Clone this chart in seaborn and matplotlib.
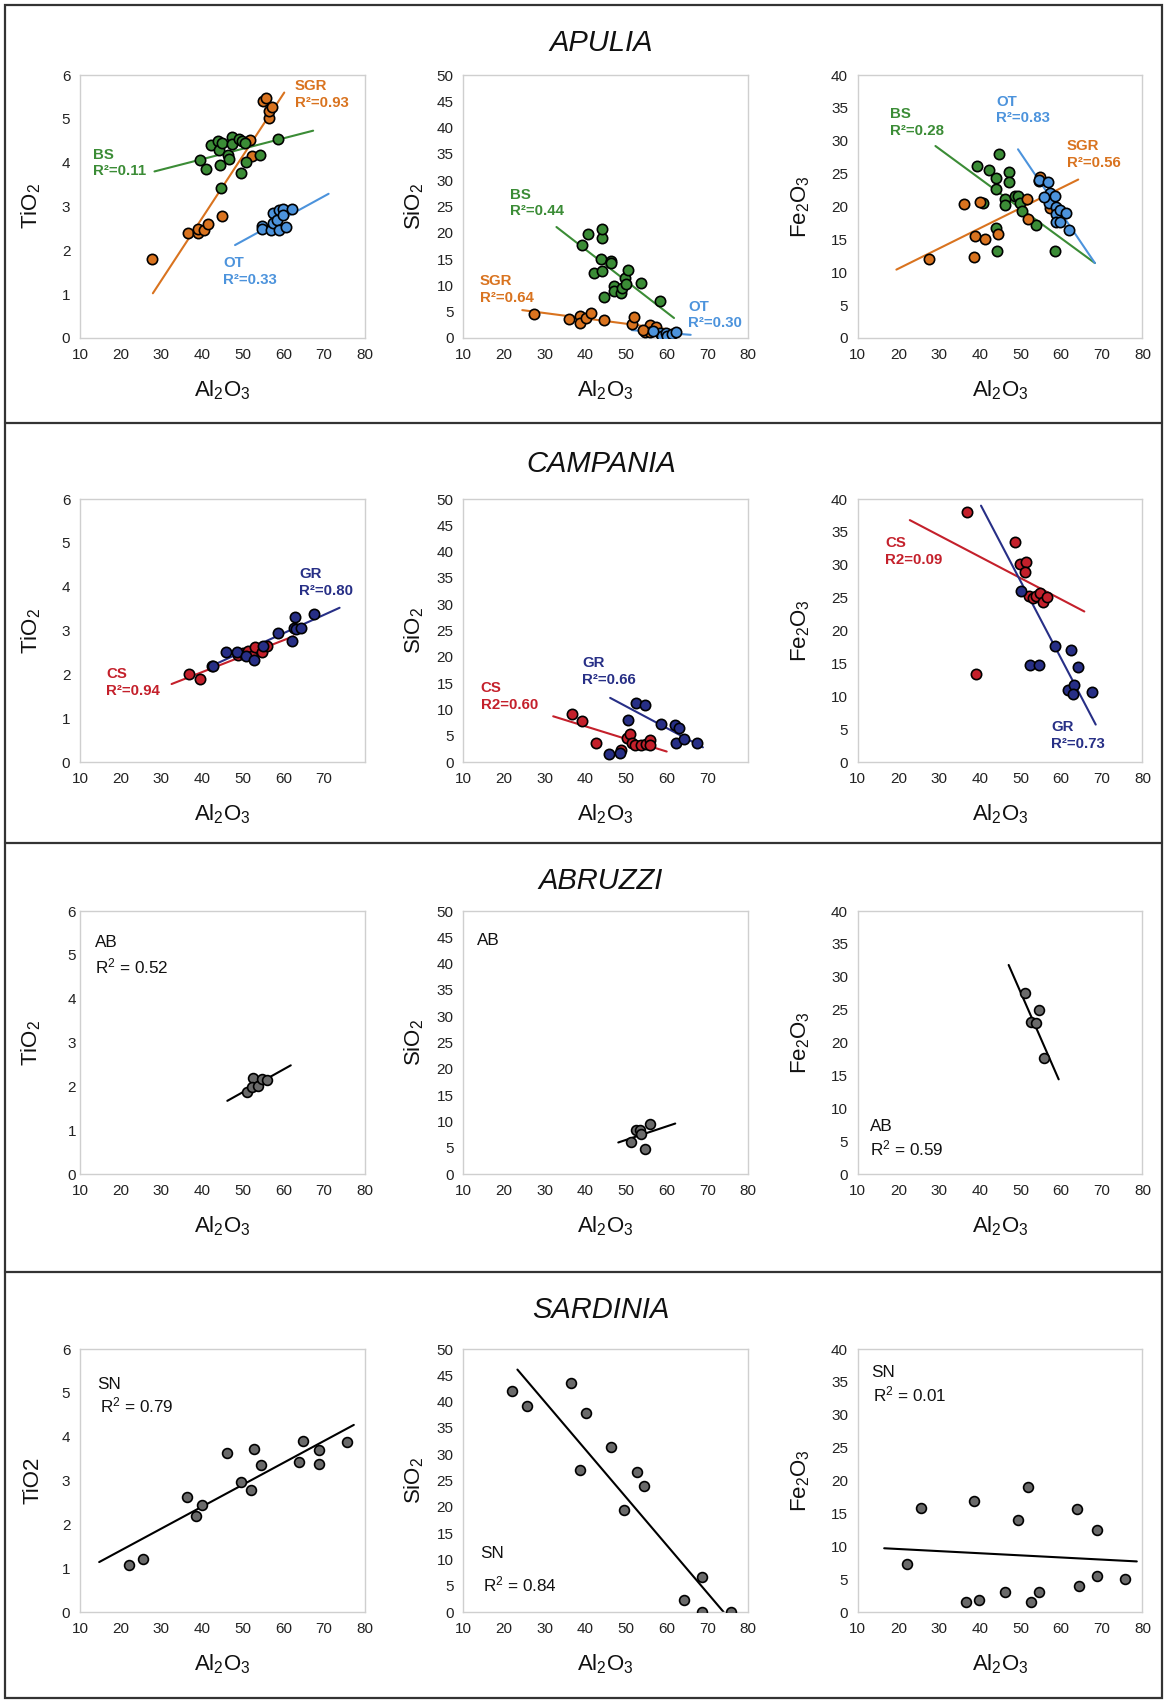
import matplotlib
matplotlib.use("Agg")
import numpy as np
import pandas as pd
import matplotlib.pyplot as plt
import seaborn as sns
from matplotlib.lines import Line2D
from matplotlib.patches import Rectangle

sns.set_style("white")
plt.rcParams["font.family"] = ["Liberation Sans", "DejaVu Sans"]
plt.rcParams["mathtext.fontset"] = "custom"
plt.rcParams["mathtext.rm"] = "Liberation Sans"
plt.rcParams["mathtext.it"] = "Liberation Sans:italic"
plt.rcParams["mathtext.bf"] = "Liberation Sans:bold"

ORANGE = "#d9731f"
GREEN = "#3b8c36"
BLUE = "#4c93dc"
RED = "#c4202b"
NAVY = "#272f86"
GREY = "#6a6a6a"

# ---------------- data: (Al2O3, oxide) pairs ----------------
# APULIA - TiO2
apu_ti_sgr = [(27.8, 1.80), (36.5, 2.39), (38.9, 2.39), (38.9, 2.48), (40.5, 2.47), (41.5, 2.59),
              (44.9, 2.79), (51.8, 4.52), (52.3, 4.16), (55.0, 5.41), (55.8, 5.47), (56.4, 5.03),
              (56.5, 5.19), (57.3, 5.28)]
apu_ti_bs = [(39.5, 4.06), (40.9, 3.86), (42.3, 4.41), (44.0, 4.50), (44.2, 4.29), (44.9, 4.46),
             (44.4, 3.95), (44.6, 3.42), (46.4, 4.18), (46.5, 4.08), (47.3, 4.59), (47.3, 4.43),
             (49.1, 4.54), (49.6, 3.77), (49.8, 4.49), (50.5, 4.45), (50.8, 4.02), (54.2, 4.18),
             (58.6, 4.53)]
apu_ti_ot = [(54.7, 2.56), (54.7, 2.48), (56.9, 2.47), (57.5, 2.85), (57.5, 2.63), (58.5, 2.70),
             (58.8, 2.47), (58.8, 2.92), (59.8, 2.95), (60.0, 2.80), (60.6, 2.54), (62.2, 2.95)]
apu_ti_sgr_fit = [(27.9, 1.02), (60.2, 5.60)]
apu_ti_bs_fit = [(28.3, 3.80), (67.3, 4.73)]
apu_ti_ot_fit = [(48.1, 2.12), (71.1, 3.29)]

# APULIA - SiO2
apu_si_bs = [(39.3, 17.7), (40.7, 19.7), (42.1, 12.3), (44.0, 12.8), (43.8, 15.1), (44.2, 19.1),
             (44.2, 20.8), (44.7, 7.7), (46.3, 14.7), (46.4, 14.2), (47.0, 9.8), (47.0, 8.9),
             (48.7, 8.5), (49.0, 9.5), (49.8, 11.5), (50.0, 10.3), (50.5, 12.9), (53.7, 10.4),
             (58.3, 7.0)]
apu_si_sgr = [(27.5, 4.6), (36.1, 3.7), (38.7, 4.1), (38.7, 2.8), (40.1, 3.8), (41.3, 4.7),
              (44.6, 3.5), (51.4, 2.7), (51.9, 3.9), (56.0, 2.5), (57.3, 2.0), (54.7, 1.2),
              (55.9, 1.1), (54.1, 1.5)]
apu_si_ot = [(58.3, 1.0), (58.9, 0.4), (59.8, 0.9), (60.1, 0.3), (61.4, 0.7), (62.4, 1.1), (56.7, 1.3)]
apu_si_bs_fit = [(32.9, 21.1), (61.8, 3.8)]
apu_si_sgr_fit = [(24.5, 5.3), (60.0, 1.7)]
apu_si_ot_fit = [(51.4, 1.5), (65.9, 0.6)]

# APULIA - Fe2O3
apu_fe_bs = [(39.3, 26.1), (42.2, 25.6), (44.0, 24.4), (43.9, 22.6), (44.8, 28.0), (40.9, 20.5),
             (46.2, 21.2), (46.1, 20.2), (47.2, 25.3), (47.1, 23.8), (48.7, 21.6), (49.4, 21.6),
             (49.8, 20.5), (50.5, 19.3), (44.1, 16.8), (44.3, 13.2), (53.9, 17.2), (58.5, 13.2)]
apu_fe_sgr = [(27.5, 12.0), (36.2, 20.4), (40.1, 20.7), (38.8, 15.5), (38.7, 12.3), (41.2, 15.1),
              (44.5, 15.8), (51.6, 21.2), (51.9, 18.1), (54.7, 24.5), (54.5, 23.9), (56.3, 21.5),
              (57.3, 19.8)]
apu_fe_ot = [(54.5, 24.0), (56.8, 23.7), (57.2, 22.1), (57.1, 20.6), (55.9, 21.5), (58.6, 21.6),
             (58.7, 19.9), (58.8, 18.8), (59.6, 19.4), (58.7, 17.7), (59.6, 17.7), (61.1, 19.0),
             (62.0, 16.4)]
apu_fe_bs_fit = [(29.1, 29.2), (68.3, 11.4)]
apu_fe_sgr_fit = [(19.5, 10.4), (64.2, 24.1)]
apu_fe_ot_fit = [(49.4, 28.7), (68.3, 11.4)]

# CAMPANIA - TiO2
cam_ti_cs = [(36.7, 2.00), (39.4, 1.89), (42.5, 2.20), (48.8, 2.44), (50.0, 2.48), (51.2, 2.54),
             (52.2, 2.42), (53.0, 2.63), (54.7, 2.52), (56.0, 2.65)]
cam_ti_gr = [(42.6, 2.20), (46.0, 2.50), (48.6, 2.52), (50.7, 2.41), (52.7, 2.32), (54.9, 2.65),
             (58.6, 2.94), (62.2, 2.76), (62.6, 3.06), (62.9, 3.31), (63.0, 3.04), (64.2, 3.05),
             (67.4, 3.37)]
cam_ti_cs_fit = [(32.5, 1.78), (62.5, 2.87)]
cam_ti_gr_fit = [(42.7, 2.21), (73.8, 3.52)]

# CAMPANIA - SiO2
cam_si_cs = [(36.8, 9.2), (39.3, 7.8), (42.5, 3.7), (48.8, 2.3), (50.2, 4.6), (51.0, 5.3),
             (51.5, 3.7), (52.3, 3.2), (53.6, 3.3), (54.8, 3.5), (55.9, 4.2), (55.9, 3.2)]
cam_si_gr = [(45.8, 1.5), (48.6, 1.7), (50.4, 8.0), (52.4, 11.2), (54.6, 10.9), (58.5, 7.2),
             (62.0, 7.1), (63.0, 6.5), (62.3, 3.7), (64.3, 4.4), (67.4, 3.7)]
cam_si_cs_fit = [(32.1, 8.7), (60.0, 2.0)]
cam_si_gr_fit = [(46.1, 12.2), (68.9, 2.8)]

# CAMPANIA - Fe2O3
cam_fe_cs = [(36.8, 38.1), (39.1, 13.4), (48.6, 33.4), (50.0, 30.2), (51.4, 30.5), (51.0, 28.9),
             (52.0, 25.3), (53.0, 25.0), (53.8, 25.3), (54.8, 25.7), (55.6, 24.3), (56.5, 25.1)]
cam_fe_gr = [(50.2, 26.0), (52.4, 14.8), (54.5, 14.8), (58.4, 17.6), (62.4, 17.0), (64.2, 14.5),
             (61.8, 10.9), (63.1, 11.7), (62.9, 10.3), (67.5, 10.6)]
cam_fe_cs_fit = [(22.8, 36.8), (65.7, 22.9)]
cam_fe_gr_fit = [(40.3, 39.0), (68.5, 5.7)]

# ABRUZZI
abr_ti_ab = [(51.0, 1.88), (52.4, 2.18), (52.2, 1.98), (53.7, 2.00), (54.8, 2.16), (56.0, 2.14)]
abr_ti_fit = [(46.2, 1.67), (61.8, 2.48)]
abr_si_ab = [(51.3, 6.0), (52.4, 8.4), (53.5, 8.3), (53.6, 7.7), (54.7, 4.7), (55.9, 9.6)]
abr_si_fit = [(48.1, 6.0), (62.1, 9.6)]
abr_fe_ab = [(51.1, 27.5), (52.5, 23.2), (53.7, 22.9), (54.5, 24.9), (55.9, 17.7)]
abr_fe_fit = [(47.1, 31.8), (59.4, 14.4)]

# SARDINIA
sar_ti_sn = [(22.0, 1.08), (25.5, 1.22), (36.4, 2.63), (38.6, 2.19), (40.1, 2.44), (46.2, 3.63),
             (49.5, 2.96), (52.1, 2.78), (52.7, 3.73), (54.5, 3.35), (63.9, 3.43), (64.7, 3.91),
             (68.8, 3.69), (68.8, 3.38), (75.7, 3.89)]
sar_ti_fit = [(14.7, 1.14), (77.3, 4.27)]
sar_si_sn = [(22.0, 42.0), (25.6, 39.1), (36.5, 43.5), (38.7, 27.1), (40.1, 37.9), (46.3, 31.3),
             (49.4, 19.4), (52.8, 26.6), (54.4, 23.9), (64.2, 2.2), (68.8, 6.7), (68.8, 0.0),
             (75.7, 0.0)]
sar_si_fit = [(23.3, 46.1), (74.0, 0.0)]
sar_fe_sn = [(22.0, 7.3), (25.5, 15.8), (36.5, 1.6), (38.6, 16.9), (39.9, 1.8), (46.2, 3.1),
             (49.3, 14.0), (51.9, 19.0), (52.7, 1.6), (54.5, 3.1), (64.0, 15.7), (64.5, 4.0),
             (68.8, 12.5), (68.8, 5.5), (75.8, 5.1)]
sar_fe_fit = [(16.5, 9.7), (78.6, 7.7)]

regions = ["APULIA", "CAMPANIA", "ABRUZZI", "SARDINIA"]

# ---------------- layout ----------------
fig = plt.figure(figsize=(11.67, 17.01), dpi=100)
col_left = [0.0686, 0.397, 0.735]
row_bottom = [0.8013, 0.552, 0.3098, 0.0523]
W, H = 0.244, 0.1546
title_y = [0.9747, 0.7272, 0.482, 0.2299]

TI = (r"TiO$_2$", 6, 1)
SI = (r"SiO$_2$", 50, 5)
FE = (r"Fe$_2$O$_3$", 40, 5)


def style_axis(ax, spec, xlabels_to=80):
    label, ymax, ystep = spec
    ax.set_xlim(10, 80)
    ax.set_ylim(0, ymax)
    ax.set_xticks(range(10, 81, 10))
    ax.set_xticklabels([str(v) if v <= xlabels_to else "" for v in range(10, 81, 10)])
    ax.set_yticks(np.arange(0, ymax + 0.1, ystep))
    ax.set_yticklabels([f"{v:g}" for v in np.arange(0, ymax + 0.1, ystep)])
    for sp in ax.spines.values():
        sp.set_color("#cfcfcf")
        sp.set_linewidth(1.0)
    ax.tick_params(direction="out", length=4, width=0.8, color="#bdbdbd",
                   labelsize=11, labelcolor="#222222", pad=3)
    ax.set_xlabel(r"Al$_2$O$_3$", fontsize=16, labelpad=12, color="#111111")
    ax.set_ylabel(label, fontsize=16, labelpad=8, color="#111111")


def draw_group(ax, pts, fit, color, line_color=None, s=55):
    df = pd.DataFrame(pts, columns=["al2o3", "oxide"])
    fx, fy = zip(*fit)
    ax.plot(fx, fy, color=line_color or color, lw=1.5, zorder=2)
    sns.scatterplot(data=df, x="al2o3", y="oxide", color=color, edgecolor="black",
                    linewidth=1.2, s=s, ax=ax, zorder=3, legend=False)


def bold_note(ax, x, y1, y2, name, r2, color):
    ax.text(x, y1, name, color=color, fontsize=10.8, fontweight="bold", va="baseline")
    ax.text(x, y2, r2, color=color, fontsize=10.8, fontweight="bold", va="baseline")


def plain_note(ax, x1, y1, x2, y2, name, r2):
    ax.text(x1, y1, name, color="#111111", fontsize=12.3, va="baseline")
    ax.text(x2, y2, r2, color="#111111", fontsize=12.3, va="baseline")


axes = [[fig.add_axes([col_left[c], row_bottom[r], W, H]) for c in range(3)] for r in range(4)]

# APULIA
ax = axes[0][0]
draw_group(ax, apu_ti_sgr, apu_ti_sgr_fit, ORANGE)
draw_group(ax, apu_ti_bs, apu_ti_bs_fit, GREEN)
draw_group(ax, apu_ti_ot, apu_ti_ot_fit, BLUE)
style_axis(ax, TI)
bold_note(ax, 62.8, 5.66, 5.28, "SGR", "R²=0.93", ORANGE)
bold_note(ax, 13.3, 4.09, 3.71, "BS", "R²=0.11", GREEN)
bold_note(ax, 45.2, 1.62, 1.24, "OT", "R²=0.33", BLUE)

ax = axes[0][1]
draw_group(ax, apu_si_bs, apu_si_bs_fit, GREEN)
draw_group(ax, apu_si_sgr, apu_si_sgr_fit, ORANGE)
draw_group(ax, apu_si_ot, apu_si_ot_fit, BLUE)
style_axis(ax, SI)
bold_note(ax, 21.5, 26.5, 23.3, "BS", "R²=0.44", GREEN)
bold_note(ax, 14.1, 10.0, 6.8, "SGR", "R²=0.64", ORANGE)
bold_note(ax, 65.3, 5.2, 2.0, "OT", "R²=0.30", BLUE)

ax = axes[0][2]
draw_group(ax, apu_fe_bs, apu_fe_bs_fit, GREEN)
draw_group(ax, apu_fe_sgr, apu_fe_sgr_fit, ORANGE)
draw_group(ax, apu_fe_ot, apu_fe_ot_fit, BLUE)
style_axis(ax, FE)
bold_note(ax, 18.0, 33.5, 30.9, "BS", "R²=0.28", GREEN)
bold_note(ax, 44.1, 35.3, 32.8, "OT", "R²=0.83", BLUE)
bold_note(ax, 61.4, 28.6, 26.0, "SGR", "R²=0.56", ORANGE)

# CAMPANIA
ax = axes[1][0]
draw_group(ax, cam_ti_cs, cam_ti_cs_fit, RED)
draw_group(ax, cam_ti_gr, cam_ti_gr_fit, NAVY)
style_axis(ax, TI, xlabels_to=70)
bold_note(ax, 63.9, 4.20, 3.82, "GR", "R²=0.80", NAVY)
bold_note(ax, 16.4, 1.92, 1.54, "CS", "R²=0.94", RED)

ax = axes[1][1]
draw_group(ax, cam_si_cs, cam_si_cs_fit, RED)
draw_group(ax, cam_si_gr, cam_si_gr_fit, NAVY)
style_axis(ax, SI, xlabels_to=70)
bold_note(ax, 39.3, 18.1, 14.9, "GR", "R²=0.66", NAVY)
bold_note(ax, 14.3, 13.3, 10.1, "CS", "R2=0.60", RED)

ax = axes[1][2]
draw_group(ax, cam_fe_cs, cam_fe_cs_fit, RED)
draw_group(ax, cam_fe_gr, cam_fe_gr_fit, NAVY)
style_axis(ax, FE)
bold_note(ax, 16.8, 32.7, 30.2, "CS", "R2=0.09", RED)
bold_note(ax, 57.5, 4.7, 2.2, "GR", "R²=0.73", NAVY)

# ABRUZZI
ax = axes[2][0]
draw_group(ax, abr_ti_ab, abr_ti_fit, GREY, "black", s=50)
style_axis(ax, TI)
ax.set_yticks(np.arange(0, 6.01, 0.6), minor=True)
ax.tick_params(axis="y", which="major", length=0)
ax.tick_params(axis="y", which="minor", direction="out", length=4, width=0.8, color="#bdbdbd")
plain_note(ax, 13.7, 5.17, 13.7, 4.58, "AB", r"R$^2$ = 0.52")

ax = axes[2][1]
draw_group(ax, abr_si_ab, abr_si_fit, GREY, "black", s=50)
style_axis(ax, SI)
ax.text(13.4, 43.5, "AB", color="#111111", fontsize=12.3, va="baseline")

ax = axes[2][2]
draw_group(ax, abr_fe_ab, abr_fe_fit, GREY, "black", s=50)
style_axis(ax, FE)
plain_note(ax, 13.1, 6.5, 13.1, 2.8, "AB", r"R$^2$ = 0.59")

# SARDINIA
ax = axes[3][0]
draw_group(ax, sar_ti_sn, sar_ti_fit, GREY, "black", s=50)
style_axis(ax, ("TiO2", 6, 1))
plain_note(ax, 14.1, 5.08, 15.0, 4.55, "SN", r"R$^2$ = 0.79")

ax = axes[3][1]
draw_group(ax, sar_si_sn, sar_si_fit, GREY, "black", s=50)
style_axis(ax, SI)
plain_note(ax, 14.1, 10.2, 14.9, 4.0, "SN", r"R$^2$ = 0.84")

ax = axes[3][2]
draw_group(ax, sar_fe_sn, sar_fe_fit, GREY, "black", s=50)
style_axis(ax, FE)
plain_note(ax, 13.3, 35.7, 13.7, 32.1, "SN", r"R$^2$ = 0.01")

for r in range(4):
    for c in range(3):
        axes[r][c].yaxis.set_label_coords(-0.13 if c < 2 else -0.16, 0.5)

# region titles
for name, ty in zip(regions, title_y):
    fig.text(0.515, ty, name, ha="center", va="center", fontsize=21, style="italic", color="#111111")

# frame and separators
fig.add_artist(Rectangle((0.004, 0.002), 0.992, 0.995, transform=fig.transFigure,
                         fill=False, edgecolor="#333333", lw=1.6))
for yy in [1 - 423 / 1701, 1 - 843 / 1701, 1 - 1272 / 1701]:
    fig.add_artist(Line2D([0.004, 0.996], [yy, yy], transform=fig.transFigure,
                          color="#333333", lw=1.6))

fig.savefig("out.png", dpi=100, facecolor="white")
